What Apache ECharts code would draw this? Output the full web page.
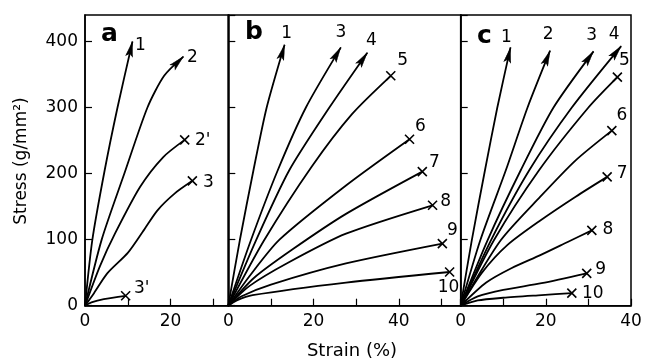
<!DOCTYPE html>
<html><head><meta charset="utf-8">
<script src="https://cdn.jsdelivr.net/npm/echarts@6/dist/echarts.min.js"></script>
<style>html,body{margin:0;padding:0;background:#fff}#c{width:645px;height:360px}</style>
</head><body><div id="c"></div>
<script>
// ---- data: [strain (%), stress (g/mm2)] ----
const a1  = [[0,0],[1.7,99],[4.6,205],[7.6,300],[11.1,400]];
const a2  = [[0,0],[3.9,100],[9.2,200],[14.6,300],[18.5,348],[23,377]];
const a2p = [[0,0],[3.5,60],[7,109],[12.9,180],[18.3,225],[23.3,251]];
const a3  = [[0,0],[2.1,19],[5.2,49],[10,80],[13.5,112],[16.9,144],[21,170],[25.1,189]];
const a3p = [[0,0],[1.5,5],[4.4,10],[9.5,15]];

const b1  = [[0,0],[2.7,99],[5.9,205],[9,300],[13.2,395]];
const b3  = [[0,0],[5.3,99],[11.6,205],[18.2,300],[26.4,391]];
const b4  = [[0,0],[6.5,99],[14.3,205],[23.7,300],[32.6,383]];
const b5  = [[0,0],[8.4,99],[19.5,210],[29,290],[38.1,348]];
const b6  = [[0,0],[5,45],[12,100],[27.6,182],[42.5,252]];
const b7  = [[0,0],[6,42],[15,85],[27.6,139],[45.5,203]];
const b8  = [[0,0],[5,30],[14,65],[27.6,109],[47.9,152]];
const b9  = [[0,0],[3,14],[10,32],[27.6,64],[50.2,94]];
const b10 = [[0,0],[2,8],[5.7,16],[27.6,35],[51.9,51]];

const c1  = [[0,0],[2.6,99],[5.7,205],[8.6,300],[11.7,391]];
const c2  = [[0,0],[4.6,99],[10.6,205],[15.7,300],[21,386]];
const c3  = [[0,0],[6.3,99],[14.1,205],[21.8,300],[31.2,385]];
const c4  = [[0,0],[7.1,99],[16.1,205],[26.1,300],[37.7,393]];
const c5  = [[0,0],[7.8,99],[18.4,205],[30,300],[36.8,346]];
const c6  = [[0,0],[9.4,99],[18.7,165],[27,220],[35.5,265]];
const c7  = [[0,0],[5,50],[11,92],[18.7,129],[27,165],[34.4,195]];
const c8  = [[0,0],[6,35],[12,57],[18.7,76.5],[25,96],[30.8,114]];
const c9  = [[0,0],[4,14],[10,24],[19,34],[29.6,49]];
const c10 = [[0,0],[4,8],[10,12],[19,16],[26.1,19]];

// curve label, data, panel index, end marker
const curveNames = ['1','2',"2'",'3',"3'", '1','3','4','5','6','7','8','9','10', '1','2','3','4','5','6','7','8','9','10'];
const curveData  = [a1,a2,a2p,a3,a3p, b1,b3,b4,b5,b6,b7,b8,b9,b10, c1,c2,c3,c4,c5,c6,c7,c8,c9,c10];
const curvePanel = [0,0,0,0,0, 1,1,1,1,1,1,1,1,1, 2,2,2,2,2,2,2,2,2,2];
const curveEnd   = ['arrow','arrow','cross','cross','cross',
                    'arrow','arrow','arrow','cross','cross','cross','cross','cross','cross',
                    'arrow','arrow','arrow','arrow','cross','cross','cross','cross','cross','cross'];
const panelLetters = ['a','b','c'];
const xMax = [33.5, 54.5, 40];
const yTicks = [0,100,200,300,400];

// ---- styles (label offsets in px from curve end) ----
const labelOffsets = [[8,4],[9,1],[18,1],[16,2],[16,-7],
  [2,-11],[0,-15],[4,-12],[12,-15],[11,-13],[12,-9],[13,-4],[10,-13],[-1,16],
  [-4,-10],[-2,-16],[-2,-16],[-7,-11],[7,-17],[10,-15],[15,-3],[16,-1],[14,-4],[21,0]];
const grids = [
  {left:85, top:15, width:143.3, height:290.7},
  {left:228.3, top:15, width:232.4, height:290.7},
  {left:460.7, top:15, width:170.3, height:290.7}
];
const FONT = 'DejaVu Sans';
const ARROW = 'path://M0,0 L3.5,15 L0,12 L-3.5,15 Z M0,-15 L0,-15';
const CROSS = 'path://M-4,-4 L4,4 M4,-4 L-4,4';

const chart = echarts.init(document.getElementById('c'), null, {renderer:'canvas'});

function buildSeries(rot) {
  return curveData.map((d, i) => {
    const n = d.length;
    const data = d.map((p, j) => {
      if (j < n - 1) return {value: p, symbol: 'none'};
      const isArrow = curveEnd[i] === 'arrow';
      return {
        value: p,
        symbol: isArrow ? ARROW : CROSS,
        symbolSize: isArrow ? [7, 30] : [9, 9],
        symbolRotate: isArrow ? (rot ? rot[i] : 0) : 0,
        itemStyle: {color: '#000', borderColor: '#000', borderWidth: isArrow ? 0.5 : 1.6},
        label: {show: true, position: 'inside', offset: labelOffsets[i], formatter: curveNames[i],
                color: '#000', fontSize: 17, fontFamily: FONT}
      };
    });
    return {
      type: 'line', xAxisIndex: curvePanel[i], yAxisIndex: curvePanel[i],
      data: data, smooth: 0.25, showSymbol: true, silent: true,
      lineStyle: {color: '#000', width: 1.8},
      itemStyle: {color: '#000'},
      z: 3
    };
  });
}

const option = {
  animation: false,
  backgroundColor: '#fff',
  grid: grids.map(g => Object.assign({show: true, borderColor: '#000', borderWidth: 1.5, backgroundColor: 'transparent'}, g)),
  xAxis: [0,1,2].map(p => ({
    type: 'value', gridIndex: p, min: 0, max: xMax[p], interval: 10,
    axisLine: {show: true, lineStyle: {color: '#000', width: 1.5}},
    axisTick: {show: true, inside: true, length: 7, lineStyle: {color: '#000', width: 1.2}},
    splitLine: {show: false},
    axisLabel: {margin: 7, color: '#000', fontSize: 17, fontFamily: FONT, showMaxLabel: p === 2,
                formatter: v => (v % 20 === 0 ? String(v) : '')}
  })),
  yAxis: [0,1,2].map(p => ({
    type: 'value', gridIndex: p, min: 0, max: 440, interval: 100,
    axisLine: {show: true, lineStyle: {color: '#000', width: 1.5}},
    axisTick: {show: true, inside: true, length: 7, lineStyle: {color: '#000', width: 1.2}},
    splitLine: {show: false},
    axisLabel: {show: p === 0, margin: 7, color: '#000', fontSize: 17, fontFamily: FONT, showMaxLabel: false,
                formatter: v => (yTicks.indexOf(v) >= 0 ? String(v) : '')}
  })),
  graphic: [
    {type: 'text', x: 22, y: 161, rotation: Math.PI/2,
     style: {text: 'Stress (g/mm²)', font: '17px "DejaVu Sans"', fill: '#000', align: 'center', verticalAlign: 'middle'}},
    {type: 'text', x: 352, y: 351,
     style: {text: 'Strain (%)', font: '18px "DejaVu Sans"', fill: '#000', align: 'center', verticalAlign: 'middle'}},
    {type: 'text', left: 101, top: 22, style: {text: panelLetters[0], font: 'bold 25px "DejaVu Sans"', fill: '#000'}},
    {type: 'text', left: 245, top: 20, style: {text: panelLetters[1], font: 'bold 25px "DejaVu Sans"', fill: '#000'}},
    {type: 'text', left: 477, top: 24, style: {text: panelLetters[2], font: 'bold 25px "DejaVu Sans"', fill: '#000'}}
  ],
  series: buildSeries(null)
};
chart.setOption(option);

const rot = curveData.map((d, i) => {
  const n = d.length;
  const p1 = chart.convertToPixel({xAxisIndex: curvePanel[i], yAxisIndex: curvePanel[i]}, d[n-2]);
  const p2 = chart.convertToPixel({xAxisIndex: curvePanel[i], yAxisIndex: curvePanel[i]}, d[n-1]);
  return Math.atan2(p1[1] - p2[1], p2[0] - p1[0]) * 180 / Math.PI - 90;
});
chart.setOption({series: buildSeries(rot)});
</script>
</body></html>
